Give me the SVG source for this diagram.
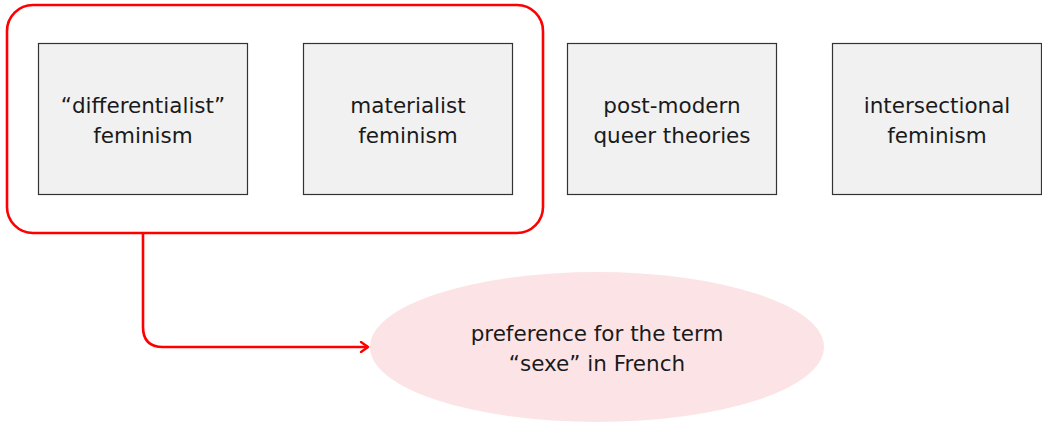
<svg xmlns="http://www.w3.org/2000/svg" width="1042" height="422" viewBox="0 0 1042 422">
<style>
.box{fill:#f1f1f1;stroke:#333;stroke-width:1.2}
.t{font-family:"DejaVu Sans","Liberation Sans",sans-serif;font-size:21.5px;fill:#1a1a1a;text-anchor:middle}
.red{fill:none;stroke:#ff0000;stroke-width:2.6}
</style>
<defs>
<marker id="arr" viewBox="0 0 12 12" refX="10" refY="6" markerWidth="12" markerHeight="12" markerUnits="userSpaceOnUse" orient="auto">
<path d="M3,1 L10,6 L3,11" fill="none" stroke="#ff0000" stroke-width="2.4" stroke-linecap="round" stroke-linejoin="round"/>
</marker>
</defs>
<g id="group-box"><rect class="red" x="7" y="5" width="536" height="228" rx="26" ry="26"/></g>
<g id="n1"><rect class="box" x="38.5" y="43.5" width="209" height="151"/><text class="t" x="143" y="113">“differentialist”</text><text class="t" x="143" y="143">feminism</text></g>
<g id="n2"><rect class="box" x="303.5" y="43.5" width="209" height="151"/><text class="t" x="408" y="113">materialist</text><text class="t" x="408" y="143">feminism</text></g>
<g id="n3"><rect class="box" x="567.5" y="43.5" width="209" height="151"/><text class="t" x="672" y="113">post-modern</text><text class="t" x="672" y="143">queer theories</text></g>
<g id="n4"><rect class="box" x="832.5" y="43.5" width="209" height="151"/><text class="t" x="937" y="113">intersectional</text><text class="t" x="937" y="143">feminism</text></g>
<g id="n5"><ellipse cx="597" cy="347" rx="227" ry="75" fill="#fce4e6"/><text class="t" x="597" y="341">preference for the term</text><text class="t" x="597" y="371">“sexe” in French</text></g>
<g id="connectors"><path class="red" d="M143,233 V327 Q143,347 163,347 H368" marker-end="url(#arr)"/></g>
</svg>
